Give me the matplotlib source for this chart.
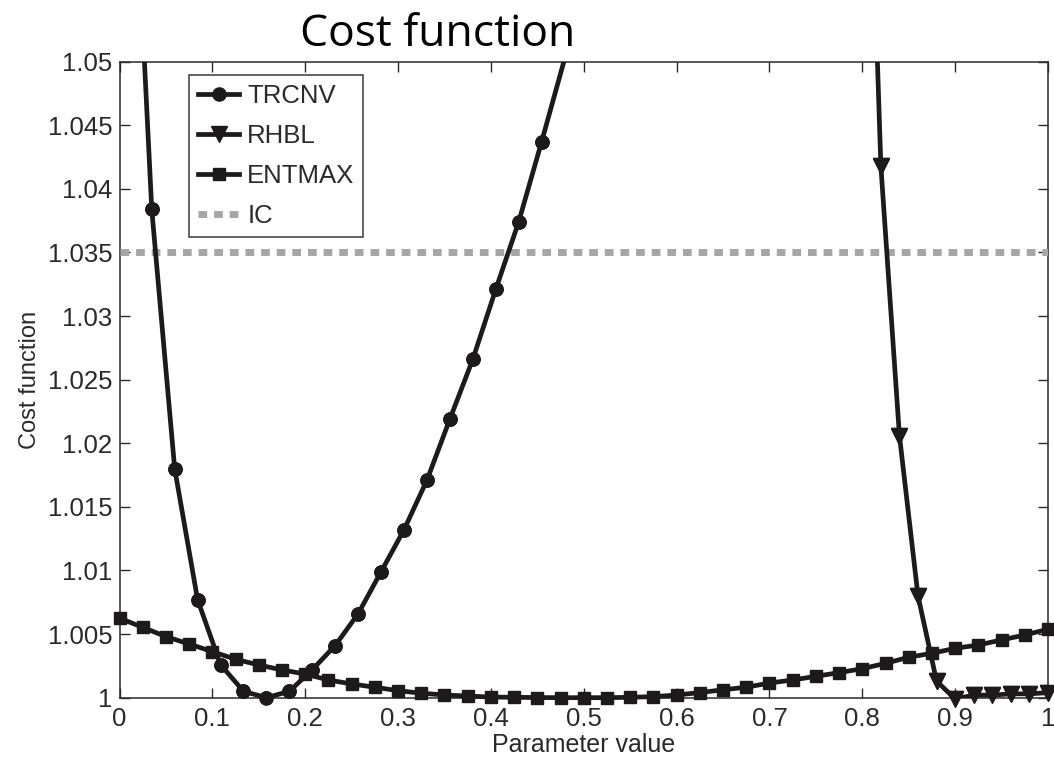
import matplotlib
matplotlib.use("Agg")
import matplotlib.pyplot as plt

# Cost function curves
trcnv_x = [0.0099, 0.0347, 0.0594, 0.0841, 0.1088, 0.1335, 0.1582, 0.1829, 0.2076,
           0.2323, 0.2570, 0.2817, 0.3064, 0.3311, 0.3558, 0.3805, 0.4052, 0.4299,
           0.4546, 0.4793, 0.5040]
trcnv_y = [1.0750, 1.0384, 1.0180, 1.0077, 1.0026, 1.0005, 1.0000, 1.0005, 1.0022,
           1.0041, 1.0066, 1.0099, 1.0132, 1.0171, 1.0219, 1.0266, 1.0321, 1.0374,
           1.0437, 1.0502, 1.0570]

rhbl_x = [0.80, 0.82, 0.84, 0.86, 0.88, 0.90, 0.92, 0.94, 0.96, 0.98, 1.00]
rhbl_y = [1.0860, 1.0418, 1.0206, 1.0080, 1.0013, 0.9999, 1.0002, 1.0002, 1.0003,
          1.0003, 1.0004]

entmax_x = [0.0, 0.025, 0.05, 0.075, 0.1, 0.125, 0.15, 0.175, 0.2, 0.225, 0.25,
            0.275, 0.3, 0.325, 0.35, 0.375, 0.4, 0.425, 0.45, 0.475, 0.5, 0.525,
            0.55, 0.575, 0.6, 0.625, 0.65, 0.675, 0.7, 0.725, 0.75, 0.775, 0.8,
            0.825, 0.85, 0.875, 0.9, 0.925, 0.95, 0.975, 1.0]
entmax_y = [1.00625, 1.00553, 1.00480, 1.00422, 1.00362, 1.00302, 1.00257, 1.00218,
            1.00186, 1.00139, 1.00108, 1.00082, 1.00055, 1.00035, 1.00021, 1.00013,
            1.00005, 1.00003, 1.00001, 1.00000, 1.00000, 1.00000, 1.00003, 1.00008,
            1.00021, 1.00040, 1.00062, 1.00082, 1.00115, 1.00139, 1.00168, 1.00197,
            1.00228, 1.00270, 1.00318, 1.00349, 1.00388, 1.00414, 1.00454, 1.00493,
            1.00538]

ic_level = 1.035

x_ticks = [0, 0.1, 0.2, 0.3, 0.4, 0.5, 0.6, 0.7, 0.8, 0.9, 1]
x_ticklabels = ["0", "0.1", "0.2", "0.3", "0.4", "0.5", "0.6", "0.7", "0.8", "0.9", "1"]
y_ticks = [1, 1.005, 1.01, 1.015, 1.02, 1.025, 1.03, 1.035, 1.04, 1.045, 1.05]
y_ticklabels = ["1", "1.005", "1.01", "1.015", "1.02", "1.025", "1.03", "1.035",
                "1.04", "1.045", "1.05"]

plt.rcParams['font.family'] = ['Liberation Sans', 'DejaVu Sans']
ink = '#1c1a1b'
txt = '#2a2a2a'
gray = '#a6a6aa'
ymin, ymax = 1, 1.05

fig = plt.figure(figsize=(10.54, 7.59), dpi=100)
ax = fig.add_axes([0.1134, 0.0808, 0.8809, 0.8379])

lw = 3.4
series = [(trcnv_x, trcnv_y, 'o', 9.5, 'TRCNV'), (rhbl_x, rhbl_y, 'v', 11, 'RHBL')]
for xs, ys, m, s, name in series:
    inside = [i for i, v in enumerate(ys) if v <= ymax]
    ax.plot(xs, ys, color=ink, lw=lw, marker=m, ms=s, markevery=inside,
            label=name, zorder=4)
    # markers sitting on the frame are not clipped in the original
    ax.plot([xs[i] for i in inside], [ys[i] for i in inside], ls='none', marker=m,
            ms=s, color=ink, clip_on=False, zorder=5)
ax.plot(entmax_x, entmax_y, color=ink, lw=lw, marker='s', ms=8.5, label='ENTMAX',
        zorder=4, clip_on=False)
ax.axhline(ic_level, color=gray, lw=5, ls=(0, (1.25, 1.0)), label='IC', zorder=3)

ax.set_xlim(0, 1)
ax.set_ylim(ymin, ymax)
ax.set_xticks(x_ticks)
ax.set_xticklabels(x_ticklabels)
ax.set_yticks(y_ticks)
ax.set_yticklabels(y_ticklabels)
ax.tick_params(direction='in', length=7, width=1, top=True, right=True,
               labelsize=18.5, colors=txt)
ax.tick_params(axis='x', pad=7)
ax.tick_params(axis='y', pad=5)
for sp in ax.spines.values():
    sp.set_linewidth(1.1)
    sp.set_color(txt)

ax.set_xlabel('Parameter value', fontsize=18, color=txt, labelpad=1)
ax.set_ylabel('Cost function', fontsize=17, color=txt, labelpad=5)

leg = ax.legend(loc='upper left', bbox_to_anchor=(0.0752, 0.979), borderaxespad=0,
                fontsize=18.5, frameon=True, fancybox=False, edgecolor=ink,
                handlelength=1.6, handletextpad=0.3, labelspacing=0.62,
                borderpad=0.35, numpoints=1)
leg.get_frame().set_linewidth(1.2)
for t in leg.get_texts():
    t.set_color(txt)

fig.text(0.4156, 0.954, 'Cost function', fontsize=32, family=['Open Sans', 'DejaVu Sans'],
         ha='center', va='center', color='black')

fig.savefig('out.png', dpi=100)
